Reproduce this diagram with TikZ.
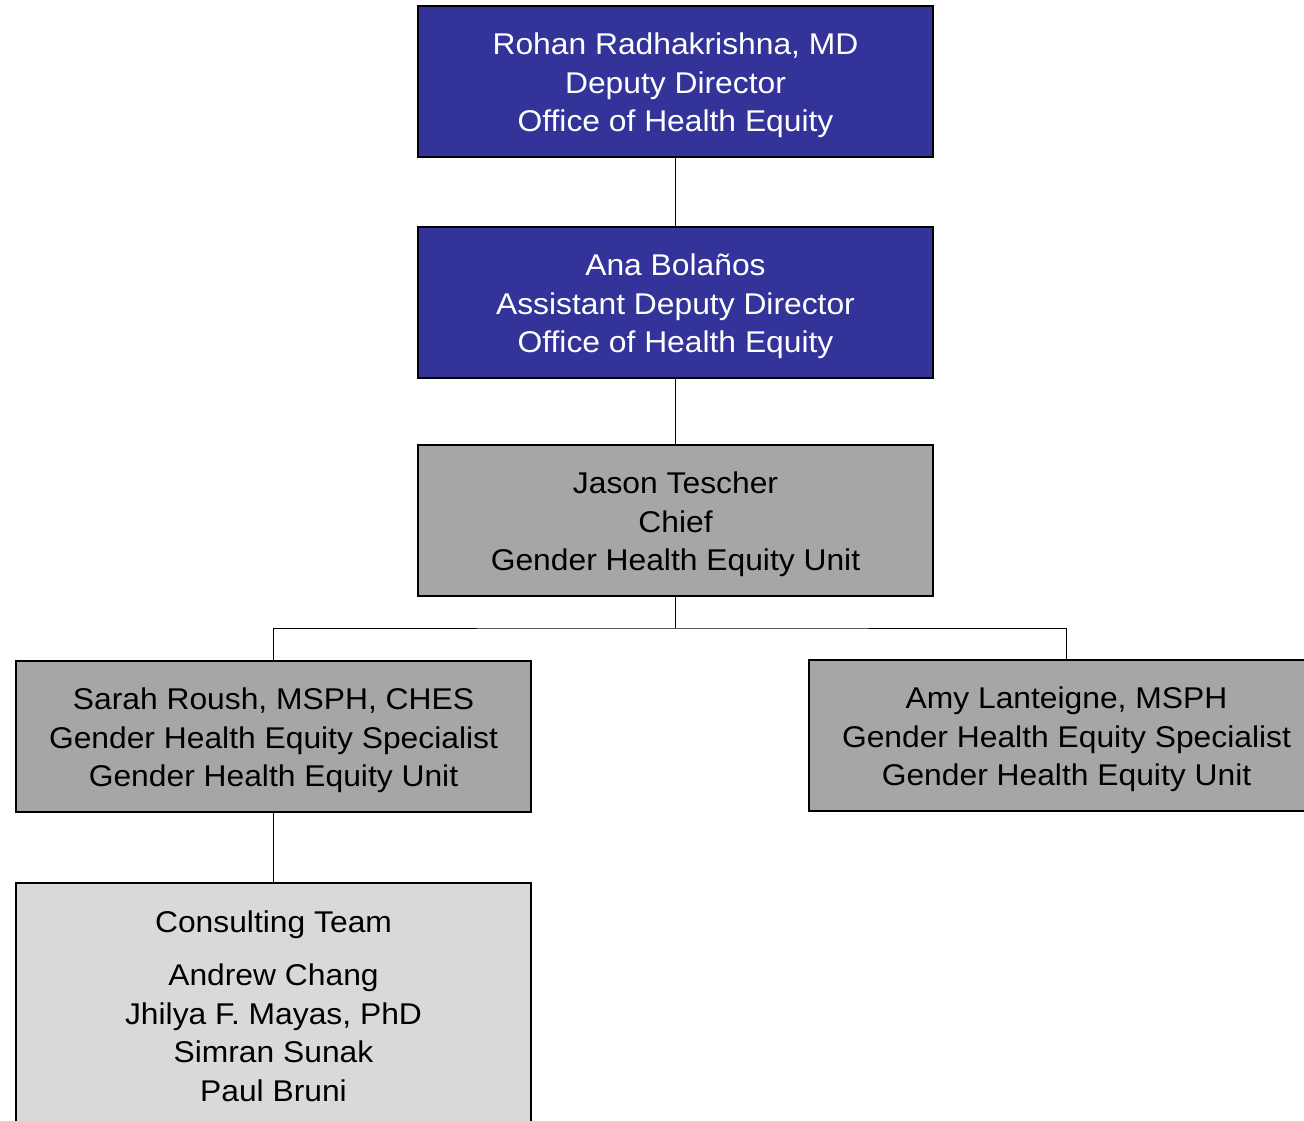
\documentclass[tikz,border=0pt]{standalone}
\usepackage{fontspec}
\setmainfont{Liberation Sans}[FakeStretch=1.06]
\definecolor{obox}{HTML}{333399}
\definecolor{gbox}{HTML}{A6A6A6}
\definecolor{lbox}{HTML}{D9D9D9}
\begin{document}
\begin{tikzpicture}[x=1pt,y=-1pt,
  boxfont/.style={font=\fontsize{30}{38.5}\selectfont},
  orgbox/.style={draw=black,line width=1.6pt,minimum width=515pt,minimum height=151pt,inner sep=0pt},
  boxtext/.style={boxfont,align=center,inner sep=0pt,yshift=-4pt},
  bluebox/.style={orgbox,fill=obox},
  graybox/.style={orgbox,fill=gbox},
  link/.style={draw=black,line width=1pt}]
\useasboundingbox (0,0) rectangle (1304,1121);
\clip (0,0) rectangle (1304,1121);
\node[bluebox,label={[boxtext,text=white]center:{Rohan Radhakrishna, MD\\Deputy Director\\Office of Health Equity}}] (rohan) at (675.5,81.5) {};
\node[bluebox,label={[boxtext,text=white]center:{Ana Bolaños\\Assistant Deputy Director\\Office of Health Equity}}] (ana) at (675.5,302.5) {};
\node[graybox,label={[boxtext]center:{Jason Tescher\\Chief\\Gender Health Equity Unit}}] (jason) at (675.5,520.5) {};
\node[graybox,label={[boxtext]center:{Sarah Roush, MSPH, CHES\\Gender Health Equity Specialist\\Gender Health Equity Unit}}] (sarah) at (273.5,736.5) {};
\node[graybox,label={[boxtext]center:{Amy Lanteigne, MSPH\\Gender Health Equity Specialist\\Gender Health Equity Unit}}] (amy) at (1066.5,735.5) {};
\node[orgbox,fill=lbox,anchor=north,minimum height=300pt] (team) at (273.5,882) {};
\node[boxfont,inner sep=0pt] (teamtitle) at (273.5,924.5) {Consulting Team};
\node[boxfont,align=center,inner sep=0pt,anchor=north] (members) at (273.5,964) {Andrew Chang\\Jhilya F. Mayas, PhD\\Simran Sunak\\Paul Bruni};
\coordinate (bus) at (675.5,628);
\draw[link] (rohan.south) -- (ana.north);
\draw[link] (ana.south) -- (jason.north);
\draw[link] (jason.south) -- (bus);
\draw[link] (sarah.north) |- (bus) -| (amy.north);
\draw[link] (sarah.south) -- (team.north);
\end{tikzpicture}
\end{document}
